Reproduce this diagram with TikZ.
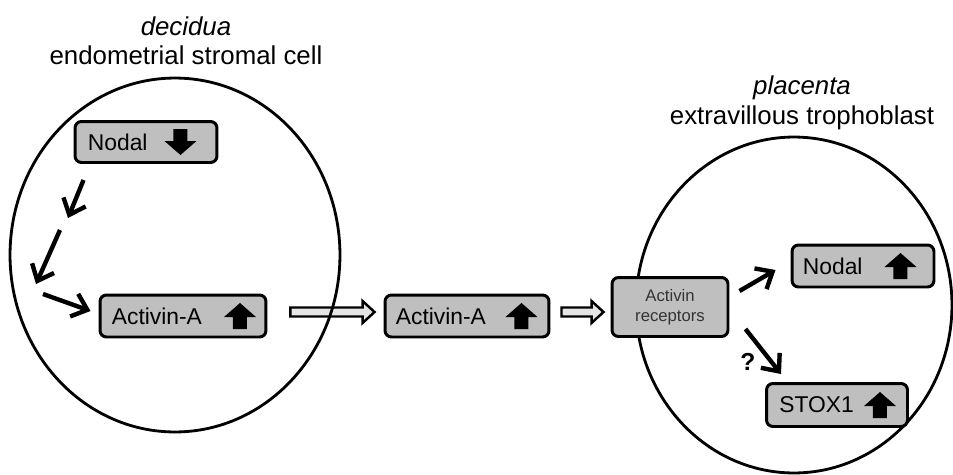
\documentclass[tikz,border=0pt]{standalone}
\usepackage{fontspec}
\setmainfont{Liberation Sans}
\usetikzlibrary{calc,arrows.meta}
\pgfdeclarelayer{back}
\pgfsetlayers{back,main}

\tikzset{
  cell/.style={line width=1.6pt},
  box/.style={draw, line width=1.7pt, fill=black!25, rounded corners=0.13cm, minimum height=0.84cm},
  boxtext/.style={anchor=west, inner sep=0pt, font=\fontsize{13}{15}\selectfont},
  title/.style={anchor=base, inner sep=0pt, font=\fontsize{14.7}{17}\selectfont},
  sig/.style={line width=2.5pt, -{Straight Barb[length=2.8mm,width=4.8mm]}},
  hollow/.style={draw, line width=1.4pt, fill=black!10, line join=miter},
  upicon/.pic={\fill (-16,1) -- (0,-13) -- (16,1) -- (7,1) -- (7,13) -- (-7,13) -- (-7,1) -- cycle;},
  downicon/.pic={\fill (-16,-1) -- (0,13) -- (16,-1) -- (7,-1) -- (7,-13) -- (-7,-13) -- (-7,-1) -- cycle;}
}

% open block arrow between two points
\newcommand{\fatarrow}[2]{%
  \draw[hollow] ($(#1)+(0,-4.5)$) -- ($(#2)+(-12,-4.5)$) -- ($(#2)+(-12,-11)$) -- (#2)
    -- ($(#2)+(-12,11)$) -- ($(#2)+(-12,4.5)$) -- ($(#1)+(0,4.5)$) -- cycle;}

\begin{document}
\begin{tikzpicture}[x=0.02cm, y=-0.02cm]
    \useasboundingbox (0,0) rectangle (953,474);
    % titles
    \node[title] (decid) at (186,35) {\textit{decidua}};
    \node[title] (stroma) at (186,64) {endometrial stromal cell};
    \node[title] (placen) at (802,94) {\textit{placenta}};
    \node[title] (evt) at (802,124) {extravillous trophoblast};
    % cells
    \draw[cell] (175,255) ellipse [x radius=3.3cm, y radius=3.54cm];
    \draw[cell] (794,305) ellipse [x radius=3.16cm, y radius=3.36cm];
    % boxes
    \node[box, minimum width=2.84cm, minimum height=0.82cm] (nodalL) at (146,142) {};
    \node[boxtext] (nodalLt) at ([xshift=0.28cm]nodalL.west) {Nodal};
    \pic at ([xshift=-0.76cm]nodalL.east) {downicon};
    \node[box, minimum width=3.32cm] (actL) at (183,316) {};
    \node[boxtext] (actLt) at ([xshift=0.26cm]actL.west) {Activin-A};
    \pic at ([xshift=-0.55cm]actL.east) {upicon};
    \node[box, minimum width=3.28cm] (actM) at (467,316) {};
    \node[boxtext] (actMt) at ([xshift=0.24cm]actM.west) {Activin-A};
    \pic at ([xshift=-0.58cm]actM.east) {upicon};
    \node[box, minimum width=2.32cm, minimum height=1.18cm, align=center, text=black!80,
          font=\fontsize{9.5}{11.5}\selectfont] (recp) at (670,307) {Activin\\receptors};
    \node[box, minimum width=2.84cm] (nodalR) at (863,266) {};
    \node[boxtext] (nodalRt) at ([xshift=0.24cm]nodalR.west) {Nodal};
    \pic at ([xshift=-0.7cm]nodalR.east) {upicon};
    \node[box, minimum width=2.82cm, minimum height=0.86cm] (stox) at (837,405) {};
    \node[boxtext] (stoxt) at ([xshift=0.28cm]stox.west) {STOX1};
    \pic at ([xshift=-0.58cm]stox.east) {upicon};
    % signalling inside the stromal cell
    \coordinate (c1a) at ([xshift=0.2cm,yshift=-0.32cm]nodalL.south west);
    \coordinate (c1b) at (68,218);
    \coordinate (c2a) at (60,230);
    \coordinate (c2b) at (36,284);
    \coordinate (c3a) at (43,294);
    \draw[sig] (c1a) -- (c1b);
    \draw[sig] (c2a) -- (c2b);
    \draw[sig] (c3a) -- ([xshift=-0.16cm,yshift=0.1cm]actL.west);
    % secretion
    \coordinate (f1a) at ([xshift=0.46cm,yshift=0.08cm]actL.east);
    \coordinate (f1b) at ([xshift=-0.18cm,yshift=0.08cm]actM.west);
    \coordinate (f2a) at ([xshift=0.22cm,yshift=0.08cm]actM.east);
    \coordinate (f2b) at ([xshift=-0.14cm,yshift=-0.1cm]recp.west);
    \begin{pgfonlayer}{back}
        \fatarrow{f1a}{f1b}
        \fatarrow{f2a}{f2b}
    \end{pgfonlayer}
    % trophoblast response
    \draw[sig] ([xshift=0.2cm,yshift=-0.3cm]recp.north east) -- ([xshift=-0.3cm,yshift=-0.08cm]nodalR.west);
    \draw[sig] ([xshift=0.32cm,yshift=0.18cm]recp.south east) -- ([xshift=0.32cm,yshift=0.16cm]stox.north west);
    \node[font=\bfseries\fontsize{14}{16}\selectfont] (qm) at (748,362) {?};
\end{tikzpicture}
\end{document}
